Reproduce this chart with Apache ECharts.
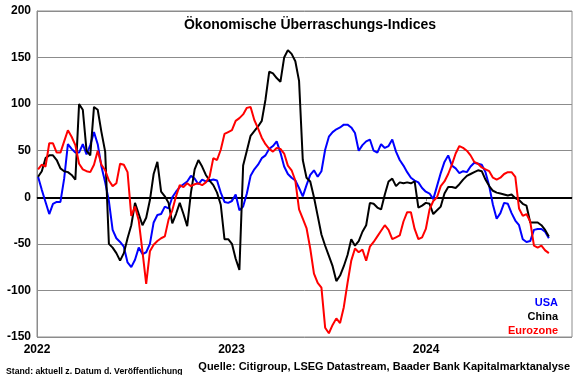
<!DOCTYPE html>
<html>
<head>
<meta charset="utf-8">
<script src="https://cdn.jsdelivr.net/npm/echarts@6/dist/echarts.min.js"></script>
<style>
html,body{margin:0;padding:0;background:#fff;}
#c{width:580px;height:375px;}
</style>
</head>
<body>
<div id="c"></div>
<script>
// Weekly observations starting Monday 2022-01-03
const startDate = '2022-01-03';
const yTicks = [-150, -100, -50, 0, 50, 100, 150, 200];
const xYears = [2022, 2023, 2024];

const usa = [22,8,-5,-18,-7,-5,-5,20,57,52,48,48,57,46,56,70,57,33,16,-4,
  -35,-44,-48,-53,-70,-75,-67,-54,-61,-59,-50,-27,-19,-18,-10,-12,0,6,11,14,
  17,23,20,14,19,17,18,19,18,5,-5,-6,-4,3,-14,-10,4,23,30,35,
  42,45,52,55,60,48,33,25,21,18,10,1,13,24,29,22,28,51,65,70,
  73,75,78,78,75,69,50,56,60,62,50,48,57,53,55,62,49,40,34,27,
  21,18,16,10,6,4,-2,12,26,38,45,34,31,26,28,27,33,37,36,35,
  27,12,-8,-23,-17,-6,-7,-17,-25,-30,-45,-48,-47,-35,-34,-34,-37,-44];

const china = [22,28,42,45,45,40,31,28,27,24,19,100,94,50,45,97,94,70,49,-50,
  -54,-60,-68,-60,-44,-30,-6,-18,-30,-22,-3,25,38,6,1,-6,-28,-18,-6,-18,
  -31,5,30,40,33,24,18,13,5,-8,-45,-45,-50,-66,-78,34,50,66,71,76,
  82,105,135,133,128,124,150,158,154,146,125,40,21,17,0,-20,-40,-52,-63,-74,
  -90,-84,-74,-62,-45,-52,-47,-37,-30,-6,-7,-11,-13,3,17,20,12,16,15,16,
  15,17,-11,-9,-6,-7,-18,-14,-10,4,11,11,10,14,19,23,25,27,29,28,
  19,12,7,5,4,3,2,3,-1,-3,-7,-9,-27,-27,-27,-30,-35,-42];

const eurozone = [30,35,33,58,58,48,48,60,72,65,56,36,30,28,27,35,50,35,29,18,
  12,15,36,35,27,-20,-10,-25,-58,-93,-58,-51,-47,-44,-42,-24,-14,1,13,11,
  15,12,14,15,13,16,22,42,40,51,68,70,72,82,85,89,96,97,83,74,
  64,57,52,49,53,52,47,34,29,18,-13,-23,-33,-55,-82,-92,-97,-140,-146,-137,
  -130,-135,-118,-92,-68,-55,-59,-56,-68,-53,-48,-42,-36,-30,-35,-45,-43,-41,-26,-16,
  -16,-34,-45,-43,-34,-13,-4,0,12,17,25,35,47,55,53,50,45,38,36,32,
  30,28,21,19,21,25,27,27,22,-12,-20,-18,-26,-52,-54,-52,-57,-60];

const seriesNames = ['USA', 'China', 'Eurozone'];
const seriesColors = ['#0000ff', '#000000', '#ff0000'];

const t0 = Date.UTC(2022, 0, 1);
const s0 = Date.parse(startDate + 'T00:00:00Z');
const dayMs = 86400000;
function toYear(i) {
  const d = s0 + i * 7 * dayMs;
  return 2022 + (d - t0) / dayMs / 365.25;
}
function build(arr) { return arr.map((v, i) => [toYear(i), v]); }

const FONT = '"Liberation Sans", Arial, sans-serif';
const chart = echarts.init(document.getElementById('c'), null, {renderer: 'canvas'});
const lists = [usa, china, eurozone];

chart.setOption({
  animation: false,
  backgroundColor: '#ffffff',
  grid: {left: 37, right: 8, top: 11, bottom: 38, show: true, borderColor: '#8c8c8c', borderWidth: 1, containLabel: false},
  title: [
    {text: 'Ökonomische Überraschungs-Indices', left: 305, top: 13, textAlign: 'center',
     textStyle: {fontFamily: FONT, fontSize: 14, fontWeight: 'bold', color: '#000'}},
    {text: 'Quelle: Citigroup, LSEG Datastream, Baader Bank Kapitalmarktanalyse', right: 5, top: 356,
     textStyle: {fontFamily: FONT, fontSize: 11, fontWeight: 'bold', color: '#000'}},
    {text: 'Stand: aktuell z. Datum d. Veröffentlichung', left: 1, top: 362,
     textStyle: {fontFamily: FONT, fontSize: 8.7, fontWeight: 'bold', color: '#000'}},
    {text: seriesNames[0], right: 17, top: 292, textStyle: {fontFamily: FONT, fontSize: 11, fontWeight: 'bold', color: seriesColors[0]}},
    {text: seriesNames[1], right: 17, top: 306, textStyle: {fontFamily: FONT, fontSize: 11, fontWeight: 'bold', color: seriesColors[1]}},
    {text: seriesNames[2], right: 17, top: 320, textStyle: {fontFamily: FONT, fontSize: 11, fontWeight: 'bold', color: seriesColors[2]}}
  ],
  xAxis: {
    type: 'value', min: 2022, max: 2024.75, interval: 1,
    axisLine: {show: true, lineStyle: {color: '#8c8c8c', width: 1}},
    axisTick: {show: true, length: 4, lineStyle: {color: '#8c8c8c'}},
    splitLine: {show: false},
    axisLabel: {fontFamily: FONT, fontSize: 12, fontWeight: 'bold', color: '#000', margin: 7, showMaxLabel: false,
      formatter: v => (xYears.indexOf(Math.round(v)) >= 0 && Math.abs(v - Math.round(v)) < 1e-6) ? String(Math.round(v)) : ''}
  },
  yAxis: {
    type: 'value', min: yTicks[0], max: yTicks[yTicks.length - 1], interval: 50,
    axisLine: {show: true, lineStyle: {color: '#8c8c8c', width: 1}},
    axisTick: {show: false},
    splitLine: {show: true, lineStyle: {color: '#8c8c8c', width: 1}},
    axisLabel: {fontFamily: FONT, fontSize: 12, fontWeight: 'bold', color: '#000', margin: 6}
  },
  series: lists.map((arr, k) => ({
    name: seriesNames[k], type: 'line', data: build(arr), showSymbol: false, symbol: 'none',
    lineStyle: {color: seriesColors[k], width: 2}, z: 3 + k,
    markLine: k === 0 ? {silent: true, symbol: 'none', label: {show: false},
      lineStyle: {color: '#000', width: 2, type: 'solid'}, data: [{yAxis: 0}], z: 2} : undefined
  }))
});
</script>
</body>
</html>
